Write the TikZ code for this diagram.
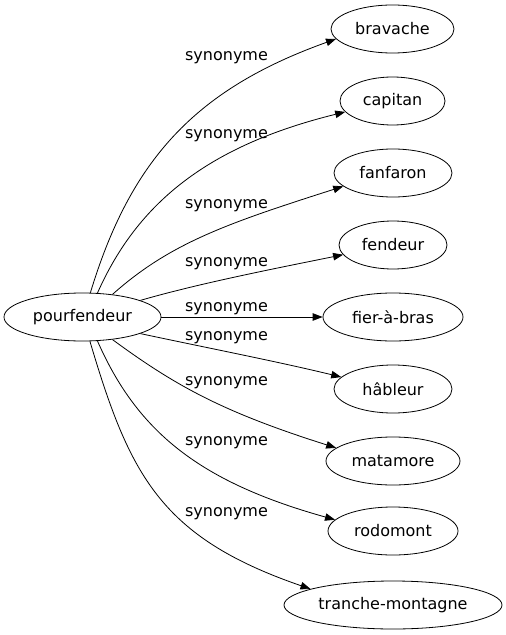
\documentclass[tikz,border=0pt]{standalone}
\usepackage{fontspec}
\setmainfont{DejaVu Sans}
\usetikzlibrary{shapes.geometric,arrows.meta}
\begin{document}
\begin{tikzpicture}[x=1bp,y=-1bp,
  word/.style={draw, ellipse, inner sep=0pt, minimum height=48bp, line width=0.8bp,
    font=\fontsize{16bp}{19bp}\selectfont},
  syn/.style={-{Triangle[length=10bp,width=7.5bp]}, line width=0.8bp},
  lab/.style={font=\fontsize{16bp}{19bp}\selectfont, inner sep=0pt, anchor=base}]
\useasboundingbox (0,0) rectangle (506,635);
\node[word, minimum width=157bp] (pour) at (82.5,317) {pourfendeur};
\node[word, minimum width=123bp] (brav) at (392.5,29) {bravache};
\node[word, minimum width=105bp] (capi) at (392.5,101) {capitan};
\node[word, minimum width=118bp] (fanf) at (393,173) {fanfaron};
\node[word, minimum width=108bp] (fend) at (393,245) {fendeur};
\node[word, minimum width=140bp] (fier) at (393,317) {fier-à-bras};
\node[word, minimum width=118bp] (habl) at (393,389) {hâbleur};
\node[word, minimum width=134bp] (mata) at (393,461) {matamore};
\node[word, minimum width=130bp] (rodo) at (393,531) {rodomont};
\node[word, minimum width=218bp] (tran) at (393,605) {tranche-montagne};

\draw[syn] (pour.72) .. controls (130.6,160) and (195,89.4) .. (brav.190);
\draw[syn] (pour.58) .. controls (137.6,202.6) and (208.2,145.7) .. (capi.193);
\draw[syn] (pour.37) .. controls (170,243) and (227.4,223.3) .. (fanf.195);
\draw[syn] (pour.16) .. controls (200,283) and (282.7,267) .. (fend.191);
\draw[syn] (pour.east) -- (fier.west);
\draw[syn] (pour.-16) .. controls (203,347) and (278.3,361.7) .. (habl.167);
\draw[syn] (pour.-37) .. controls (175.5,385.8) and (222.3,411.9) .. (mata.167);
\draw[syn] (pour.-58) .. controls (137.6,432.4) and (200.3,482.1) .. (rodo.169);
\draw[syn] (pour.-73) .. controls (129.6,475) and (160.3,537.3) .. (tran.169);

\node[lab] (l1) at (226.5,61) {synonyme};
\node[lab] (l2) at (226.5,138.3) {synonyme};
\node[lab] (l3) at (226.5,208.3) {synonyme};
\node[lab] (l4) at (226.5,266.7) {synonyme};
\node[lab] (l5) at (226.5,311.7) {synonyme};
\node[lab] (l6) at (226.5,340) {synonyme};
\node[lab] (l7) at (226.5,385) {synonyme};
\node[lab] (l8) at (226.5,445) {synonyme};
\node[lab] (l9) at (226.5,516.7) {synonyme};
\end{tikzpicture}
\end{document}
